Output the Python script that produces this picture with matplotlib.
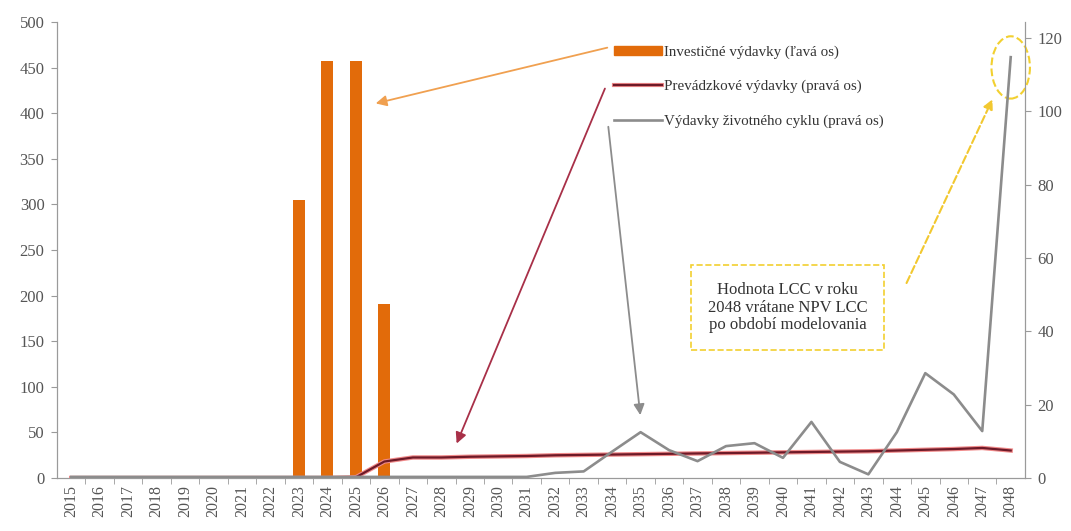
import matplotlib
matplotlib.use("Agg")
import matplotlib.pyplot as plt
import matplotlib.patheffects as pe
from matplotlib.patches import Ellipse, Patch
from matplotlib.lines import Line2D

plt.rcParams['font.family'] = ['Liberation Serif', 'DejaVu Serif']

# Údaje
roky = [str(r) for r in range(2015, 2049)]
investicne = [0, 0, 0, 0, 0, 0, 0, 0, 305, 457, 457, 191,
              0, 0, 0, 0, 0, 0, 0, 0, 0, 0, 0, 0, 0, 0, 0, 0, 0, 0, 0, 0, 0, 0]
prevadzkove = [0, 0, 0, 0, 0, 0, 0, 0, 0, 0, 0.2, 4.5,
               5.6, 5.6, 5.8, 5.9, 6.0, 6.2, 6.3, 6.4, 6.5, 6.6, 6.7, 6.8,
               6.9, 7.0, 7.1, 7.2, 7.3, 7.5, 7.7, 7.9, 8.2, 7.5]
zivotny_cyklus = [0.3, 0.3, 0.3, 0.3, 0.3, 0.3, 0.3, 0.3, 0.3, 0.3, 0.3, 0.3,
                  0.3, 0.3, 0.3, 0.3, 0.3, 1.4, 1.8, 7.2, 12.5, 7.6, 4.6, 8.7,
                  9.5, 5.5, 15.3, 4.4, 1.0, 12.5, 28.6, 22.8, 12.8, 114.8]

x = list(range(len(roky)))
seda = '#9a9a9a'

fig = plt.figure(figsize=(10.71, 5.31), dpi=100)
ax = fig.add_axes([0.0532, 0.0998, 0.9038, 0.8588])
ax2 = ax.twinx()

ax.bar(x, investicne, width=0.42, color='#E26B0A', zorder=2)
ax2.plot(x, prevadzkove, color='#6E1A28', lw=1.6,
         path_effects=[pe.Stroke(linewidth=3.2, foreground='#F08A8A'), pe.Normal()])
ax2.plot(x, zivotny_cyklus, color='#8C8C8C', lw=1.9)

ax.set_xlim(-0.5, len(roky) - 0.5)
ax.set_ylim(0, 500)
ax2.set_ylim(0, 124.4)
ax.set_yticks(range(0, 501, 50))
ax2.set_yticks(range(0, 121, 20))
ax.set_xticks(x)
ax.set_xticklabels(roky, rotation=90)
ax.set_xticks([i + 0.5 for i in x[:-1]], minor=True)
ax.tick_params(axis='x', which='major', length=0, pad=5, labelsize=11.5, labelcolor='#555555')
ax.tick_params(axis='x', which='minor', length=4, color=seda, direction='out')
ax.tick_params(axis='y', length=4, color=seda, labelsize=12, labelcolor='#555555', pad=5)
ax2.tick_params(axis='y', length=4, color=seda, labelsize=12, labelcolor='#555555', pad=5)

for a in (ax, ax2):
    a.spines['top'].set_visible(False)
    for s in ('left', 'right', 'bottom'):
        a.spines[s].set_color(seda)

# Legenda
handles = [Patch(color='#E26B0A'),
           Line2D([], [], color='#6E1A28', lw=1.6,
                  path_effects=[pe.Stroke(linewidth=3.0, foreground='#F08A8A'), pe.Normal()]),
           Line2D([], [], color='#8C8C8C', lw=1.9)]
labels = ['Investičné výdavky (ľavá os)', 'Prevádzkové výdavky (pravá os)',
          'Výdavky životného cyklu (pravá os)']
fig.legend(handles, labels, loc='upper left', bbox_to_anchor=(606 / 1071, 1 - 38 / 531),
           frameon=False, borderpad=0, handlelength=3.2, handleheight=0.5,
           handletextpad=0.2, labelspacing=1.4, fontsize=10.8, labelcolor='#333333')

# Šípky od legendy
ax.annotate('', xy=(10.6, 410), xycoords='data',
            xytext=(610 / 1071, 1 - 47 / 531), textcoords='figure fraction',
            arrowprops=dict(arrowstyle='-|>', color='#F0A050', lw=1.3, mutation_scale=16))
ax2.annotate('', xy=(13.5, 8.7), xycoords='data',
             xytext=(606 / 1071, 1 - 86 / 531), textcoords='figure fraction',
             arrowprops=dict(arrowstyle='-|>', color='#A83048', lw=1.3, mutation_scale=16))
ax2.annotate('', xy=(20, 16.4), xycoords='data',
             xytext=(608 / 1071, 1 - 124 / 531), textcoords='figure fraction',
             arrowprops=dict(arrowstyle='-|>', color='#8C8C8C', lw=1.3, mutation_scale=16))

# Poznámka LCC
ax2.text(25.17, 46.5, 'Hodnota LCC v roku\n2048 vrátane NPV LCC\npo období modelovania',
         ha='center', va='center', fontsize=12, color='#333333', linespacing=1.15,
         bbox=dict(boxstyle='square,pad=1.0', fc='white', ec='#F2D030', ls='--', lw=1.2))
ax2.annotate('', xy=(32.4, 104), xycoords='data', xytext=(29.3, 52.5), textcoords='data',
             arrowprops=dict(arrowstyle='-|>', color='#F2C830', lw=1.5, ls='--', mutation_scale=14))
ax2.add_patch(Ellipse((33, 112), 1.35, 17, fill=False, ec='#F2D030', ls='--', lw=1.5,
                      clip_on=False))

fig.savefig('out.png', dpi=100)
